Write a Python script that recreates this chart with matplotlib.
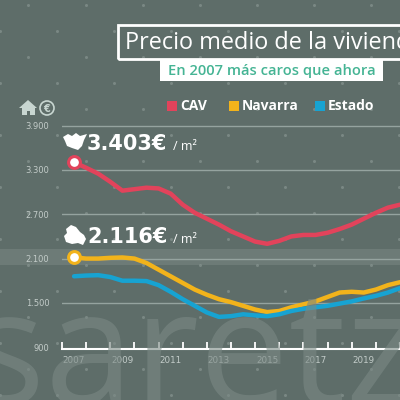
import numpy as np
import matplotlib
matplotlib.use("Agg")
import matplotlib.pyplot as plt
from matplotlib.patches import Rectangle, Polygon, Circle

# datos (precio medio €/m2)
years = [2007, 2007.5, 2008, 2008.5, 2009, 2009.5, 2010, 2010.5, 2011, 2011.5,
         2012, 2012.5, 2013, 2013.5, 2014, 2014.5, 2015, 2015.5, 2016, 2016.5,
         2017, 2017.5, 2018, 2018.5, 2019, 2019.5, 2020, 2020.5]
cav = [3403, 3330, 3250, 3140, 3020, 3040, 3060, 3050, 2980, 2830,
       2720, 2640, 2560, 2470, 2400, 2330, 2300, 2340, 2400, 2420,
       2420, 2450, 2500, 2560, 2640, 2720, 2790, 2830]
navarra = [2116, 2100, 2100, 2110, 2115, 2100, 2040, 1950, 1860, 1770,
           1680, 1610, 1550, 1510, 1460, 1410, 1375, 1390, 1440, 1480,
           1520, 1580, 1640, 1650, 1640, 1680, 1740, 1780]
estado = [1860, 1870, 1875, 1850, 1800, 1800, 1795, 1740, 1650, 1550,
          1460, 1370, 1310, 1320, 1345, 1330, 1320, 1345, 1390, 1420,
          1440, 1460, 1490, 1520, 1560, 1595, 1640, 1700]

series_names = ["CAV", "Navarra", "Estado"]
series_colors = ["#e2435b", "#f2b31b", "#17a3d2"]
y_ticks = [900, 1500, 2100, 2700, 3300, 3900]
x_labels = [2007, 2009, 2011, 2013, 2015, 2017, 2019]

BG = "#5e6d69"
FONT = "Open Sans"
W = H = 400


def px(x, y):
    # pixel -> figure fraction
    return x / W, 1 - y / H


fig = plt.figure(figsize=(4, 4), dpi=100, facecolor=BG)

# dot lattice de fondo
for m in range(-5, 11):
    yy = 135 + 26 * m
    off = 28.5 if m % 2 else 0
    xs = np.arange(off, W + 1, 57)
    fx, fy = px(xs, np.full_like(xs, yy, dtype=float))
    fig.add_artist(plt.Line2D(fx, fy, ls="none", marker="o", ms=1.2,
                              color="#7a8884", transform=fig.transFigure, zorder=0))

# franja clara
fig.add_artist(Rectangle(px(0, 265), 1, 16 / H, transform=fig.transFigure,
                         color="#8a9894", alpha=0.35, lw=0, zorder=0))

# marca de agua
fig.text(*px(-31, 404), "saretz", fontsize=115, family=FONT, color="#7b8985",
         alpha=0.6, ha="left", va="baseline", zorder=0)

ax = fig.add_axes([62 / W, 1 - 349 / H, (W - 62) / W, (349 - 100) / H])
ax.set_facecolor("none")
ax.set_xlim(2006.5, 2020.41)
ax.set_ylim(875, 4248)

for v in y_ticks[1:]:
    ax.axhline(v, color="#95a39f", lw=1, zorder=1)

for vals, c in zip([cav, navarra, estado], series_colors):
    ax.plot(years, vals, color=c, lw=3.2, solid_capstyle="round",
            solid_joinstyle="round", zorder=3)

ax.plot(years[0], cav[0], "o", ms=8.5, mfc="white", mec=series_colors[0], mew=2.2, zorder=4)
ax.plot(years[0], navarra[0], "o", ms=8.5, mfc="white", mec=series_colors[1], mew=2.2, zorder=4)

for s in ["top", "right", "left"]:
    ax.spines[s].set_visible(False)
ax.spines["bottom"].set_color("white")
ax.spines["bottom"].set_linewidth(1.5)

ax.set_xticks(np.arange(2006.5, 2021, 1))
ax.set_xticklabels([])
ax.tick_params(axis="x", which="major", direction="in", length=5, width=1.3, color="white")
ax.set_xticks(x_labels, minor=True)
ax.set_xticklabels([str(y) for y in x_labels], minor=True)
ax.tick_params(axis="x", which="minor", length=0, pad=5, labelsize=6.3, labelcolor="#c3ccc9")

ax.set_yticks(y_ticks)
ax.set_yticklabels([f"{v:,}".replace(",", ".") for v in y_ticks])
ax.tick_params(axis="y", length=0, pad=9, labelsize=6, labelcolor="#c3ccc9")

# título
fig.add_artist(Rectangle(px(118, 59), 300 / W, 34 / H, transform=fig.transFigure,
                         fill=False, ec="white", lw=2))
fig.text(*px(125, 43), "Precio medio de la vivienda", fontsize=16.9, family=FONT,
         color="white", va="center", ha="left")
fig.add_artist(Rectangle(px(160, 81), 223 / W, 21 / H, transform=fig.transFigure,
                         fc="white", ec="none"))
fig.text(*px(271.5, 70.5), "En 2007 más caros que ahora", fontsize=10.6, family=FONT,
         weight="semibold", color="#45b494", va="center", ha="center")

# leyenda
for name, c, x0 in zip(series_names, series_colors, [167, 229, 315]):
    fig.add_artist(Rectangle(px(x0, 111), 10 / W, 10 / H, transform=fig.transFigure,
                             fc=c, ec="none"))
    fig.text(*px(x0 + 13, 106.5), name, fontsize=10, family=FONT, weight="bold",
             color="white", va="center", ha="left")

# iconos casa y euro
ic = "#c8d6d1"
fig.add_artist(Polygon([px(19, 108), px(28, 100), px(37, 108)], closed=True,
                       transform=fig.transFigure, fc=ic, ec="none"))
fig.add_artist(Rectangle(px(21.5, 115), 13 / W, 8 / H, transform=fig.transFigure,
                         fc=ic, ec="none"))
fig.add_artist(Rectangle(px(26.5, 115), 3.5 / W, 4.5 / H, transform=fig.transFigure,
                         fc=BG, ec="none"))
fig.add_artist(Circle(px(47, 108), 7 / W, transform=fig.transFigure,
                      fill=False, ec=ic, lw=1.2))
fig.text(*px(47, 108.5), "€", fontsize=7, weight="bold", color=ic,
         ha="center", va="center")

# siluetas
euskadi = [(63, 137), (68, 134), (72, 136), (76, 133), (80, 136), (87, 134),
           (84, 140), (82, 146), (78, 150), (72, 148), (67, 146), (65, 141)]
nafarroa = [(66, 229), (71, 225), (76, 227), (80, 232), (84, 235), (86, 239),
            (83, 245), (78, 243), (72, 244), (66, 242), (64, 236), (67, 233)]
for shape in [euskadi, nafarroa]:
    fig.add_artist(Polygon([px(x, y) for x, y in shape], closed=True,
                           transform=fig.transFigure, fc="white", ec="none"))

fig.text(*px(87, 150), "3.403€", fontsize=15, family="DejaVu Sans", weight="bold",
         color="white", va="baseline", ha="left")
fig.text(*px(173, 150), "/ m²", fontsize=9, family=FONT, color="white",
         va="baseline", ha="left")
fig.text(*px(87, 243), "2.116€", fontsize=15, family="DejaVu Sans", weight="bold",
         color="white", va="baseline", ha="left")
fig.text(*px(173, 243), "/ m²", fontsize=9, family=FONT, color="white",
         va="baseline", ha="left")

fig.savefig("out.png", dpi=100, facecolor=BG)
